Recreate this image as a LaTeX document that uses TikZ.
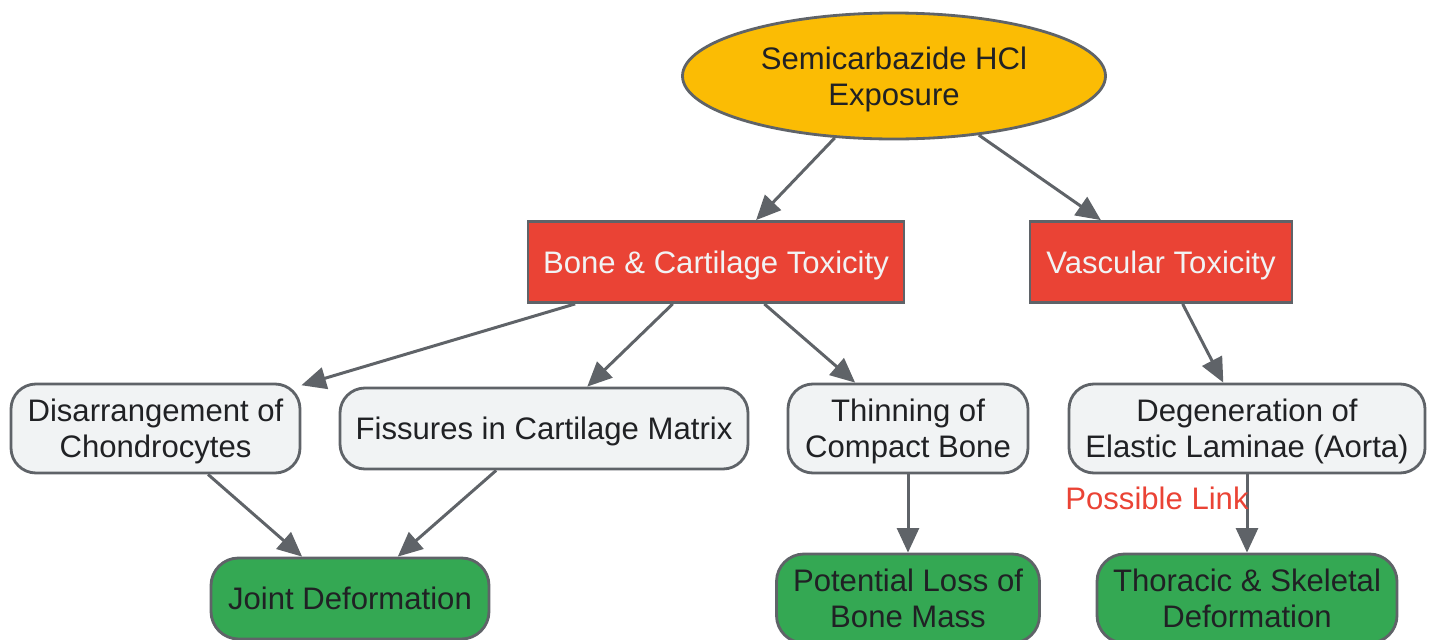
\documentclass[tikz,border=0pt]{standalone}
\usepackage{fontspec}
\setmainfont{Liberation Sans}
\usetikzlibrary{shapes.geometric,arrows.meta}
\definecolor{edgegray}{HTML}{5F6368}
\definecolor{startyellow}{HTML}{FBBC04}
\definecolor{toxred}{HTML}{EA4335}
\definecolor{effectgray}{HTML}{F1F3F4}
\definecolor{outgreen}{HTML}{34A853}
\definecolor{darktext}{HTML}{202124}
\newcommand{\bordwidth}{1.6pt}
\newcommand{\txtsize}{\fontsize{17.7}{20.5}\selectfont}
\tikzset{
  base/.style={draw=edgegray, line width=\bordwidth, align=center, inner sep=0pt, text depth=0pt, font=\txtsize, text=darktext},
  start/.style={base, ellipse, fill=startyellow},
  tox/.style={base, rectangle, fill=toxred, text=effectgray, minimum height=1.62cm},
  effect/.style={base, rectangle, rounded corners=0.5cm, fill=effectgray},
  outcome/.style={base, rectangle, rounded corners=0.55cm, fill=outgreen},
  link/.style={draw=edgegray, line width=1.7pt, -{Triangle[length=14pt,width=12.5pt]}},
  linklabel/.style={font=\txtsize, text=toxred, inner sep=0pt},
}

\begin{document}
\begin{tikzpicture}
\useasboundingbox (0,0) rectangle (28.66,-12.78);
\clip (0,0) rectangle (28.66,-12.78);
% source
\node[start, minimum width=8.46cm, minimum height=2.52cm] (expo) at (17.88,-1.52) {Semicarbazide HCl\\Exposure};
% toxicity types
\node[tox, minimum width=7.52cm] (bone) at (14.32,-5.24) {Bone \& Cartilage Toxicity};
\node[tox, minimum width=5.24cm] (vasc) at (23.22,-5.24) {Vascular Toxicity};
% effects
\node[effect, minimum width=5.78cm, minimum height=1.78cm] (chondro) at (3.11,-8.57) {Disarrangement of\\Chondrocytes};
\node[effect, minimum width=8.16cm, minimum height=1.62cm] (fissure) at (10.88,-8.57) {Fissures in Cartilage Matrix};
\node[effect, minimum width=4.80cm, minimum height=1.78cm] (thinning) at (18.16,-8.57) {Thinning of\\Compact Bone};
\node[effect, minimum width=7.12cm, minimum height=1.78cm] (lamina) at (24.94,-8.57) {Degeneration of\\Elastic Laminae (Aorta)};
% outcomes
\node[outcome, minimum width=5.56cm, minimum height=1.62cm] (joint) at (7.00,-11.97) {Joint Deformation};
\node[outcome, minimum width=5.26cm, minimum height=1.78cm] (boneloss) at (18.16,-11.97) {Potential Loss of\\Bone Mass};
\node[outcome, minimum width=6.00cm, minimum height=1.78cm] (thorax) at (24.94,-11.97) {Thoracic \& Skeletal\\Deformation};
% links
\draw[link] (expo) -- (bone);
\draw[link] (expo) -- (vasc);
\draw[link] (bone) -- (chondro);
\draw[link] (bone) -- (fissure);
\draw[link] (bone) -- (thinning);
\draw[link] (vasc) -- (lamina);
\draw[link] (chondro) -- (joint);
\draw[link] (fissure) -- (joint);
\draw[link] (thinning) -- (boneloss);
\draw[link] (lamina) -- (thorax) node[linklabel, pos=0.31, xshift=-1.8cm] (possible) {Possible Link};
\end{tikzpicture}
\end{document}
